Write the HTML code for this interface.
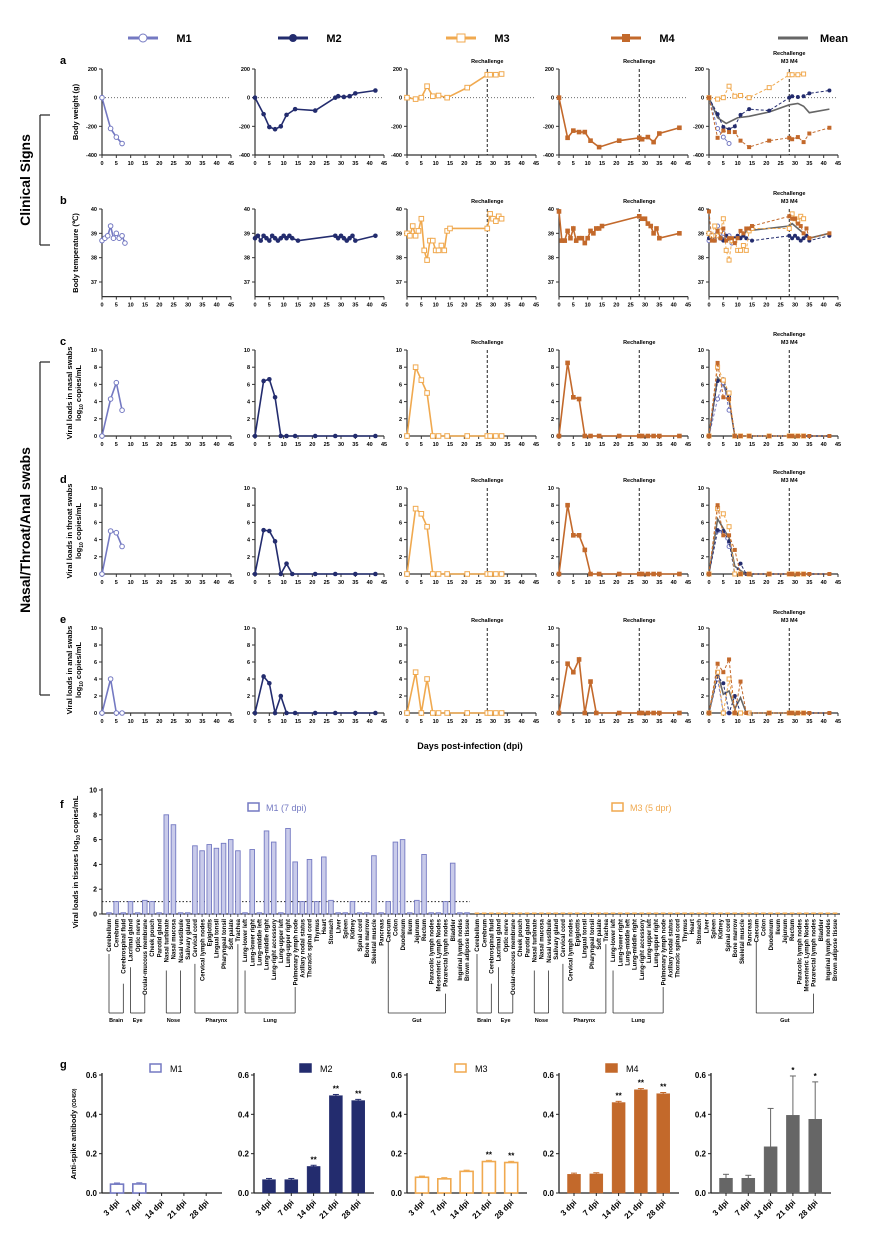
<!DOCTYPE html>
<html><head><meta charset="utf-8"><style>
body{margin:0;background:#fff}
svg{display:block;font-family:"Liberation Sans",Arial,sans-serif;font-weight:bold}
</style></head><body>
<svg id="s" width="886" height="1247" viewBox="0 0 886 1247" xmlns="http://www.w3.org/2000/svg"></svg>
<script>
const C={M1:'#7479c2',M2:'#232c6e',M3:'#f0a94f',M4:'#c3692b',Mean:'#666'};
let o='';
const L=[102,255,407,559,709], W=129;
function X(c,d){return L[c]+d*W/45}
function t(x,y,s,sz,anc,extra){o+=`<text x="${x}" y="${y}" font-size="${sz}" text-anchor="${anc||'start'}" ${extra||''}>${s}</text>`}
function ln(x1,y1,x2,y2,st,w,da){o+=`<line x1="${x1}" y1="${y1}" x2="${x2}" y2="${y2}" stroke="${st||'#000'}" stroke-width="${w||1}" ${da?`stroke-dasharray="${da}"`:''}/>`}
function mk(x,y,s,r){r=r||2.3;
 if(s=='M1')o+=`<circle cx="${x}" cy="${y}" r="${r}" fill="#fff" stroke="${C.M1}" stroke-width="1"/>`;
 if(s=='M2')o+=`<circle cx="${x}" cy="${y}" r="${r}" fill="${C.M2}"/>`;
 if(s=='M3')o+=`<rect x="${x-r}" y="${y-r}" width="${2*r}" height="${2*r}" fill="#fff" stroke="${C.M3}" stroke-width="1"/>`;
 if(s=='M4')o+=`<rect x="${x-r}" y="${y-r}" width="${2*r}" height="${2*r}" fill="${C.M4}"/>`;}
// legend
[['M1',150],['M2',300],['M3',468],['M4',633],['Mean',800]].forEach(([s,x])=>{
 ln(x-22,38,x+8,38,C[s],3);
 if(s!='Mean')mk(x-7,38,s,4);
 t(x+34,42,s,11,'middle');});
const rows=[
 {y0:69,v0:200,y1:155,v1:-400,ticks:[200,0,-200,-400],ymin:-400,zero:true,lab:['Body weight (g)'],lc:112,L:'a'},
 {y0:209,v0:40,y1:282,v1:37,ticks:[40,39,38,37],ymin:36.4,lab:['Body temperature (℃)'],lc:253,L:'b'},
 {y0:350,v0:10,y1:436,v1:0,ticks:[0,2,4,6,8,10],ymin:0,lab:['Viral loads in nasal swabs','log<tspan font-size="5" dy="2">10</tspan><tspan dy="-2"> copies/mL</tspan>'],lc:393,L:'c'},
 {y0:488,v0:10,y1:574,v1:0,ticks:[0,2,4,6,8,10],ymin:0,lab:['Viral loads in  throat swabs','log<tspan font-size="5" dy="2">10</tspan><tspan dy="-2"> copies/mL</tspan>'],lc:531,L:'d'},
 {y0:628,v0:10,y1:713,v1:0,ticks:[0,2,4,6,8,10],ymin:0,lab:['Viral loads in anal swabs','log<tspan font-size="5" dy="2">10</tspan><tspan dy="-2"> copies/mL</tspan>'],lc:670,L:'e'}];
const D=[
 {M1:[[0,0],[3,-215],[5,-275],[7,-320]],
  M2:[[0,0],[3,-115],[5,-205],[7,-220],[9,-200],[11,-120],[14,-80],[21,-90],[28,0],[29,10],[31,5],[33,10],[35,30],[42,50]],
  M3:[[0,0],[3,-10],[5,0],[7,80],[9,10],[11,15],[14,0],[21,70],[28,160],[29,160],[31,160],[33,165]],
  M4:[[0,0],[3,-280],[5,-230],[7,-240],[9,-240],[11,-300],[14,-345],[21,-300],[28,-280],[29,-290],[31,-275],[33,-310],[35,-250],[42,-210]],
  Mean:[[0,0],[3,-140],[6,-180],[8,-160],[10,-140],[14,-130],[21,-100],[28,-50],[31,-40],[33,-60],[35,-105],[42,-80]]},
 {M1:[[0,38.7],[1,38.8],[2,38.9],[3,39.3],[4,38.8],[5,39],[6,38.8],[7,38.9],[8,38.6]],
  M2:[[0,38.8],[1,38.9],[2,38.7],[3,38.9],[4,38.8],[5,38.7],[6,38.9],[7,38.8],[8,38.7],[9,38.8],[10,38.9],[11,38.8],[12,38.9],[13,38.8],[15,38.7],[28,38.9],[29,38.8],[30,38.9],[31,38.8],[32,38.7],[33,38.8],[34,38.9],[35,38.7],[42,38.9]],
  M3:[[0,39],[1,38.9],[2,39.3],[3,38.9],[4,39.1],[5,39.6],[6,38.3],[7,37.9],[8,38.7],[9,38.7],[10,38.3],[11,38.3],[12,38.5],[13,38.3],[14,39.1],[15,39.2],[28,39.2],[29,39.8],[30,39.6],[31,39.5],[32,39.7],[33,39.6]],
  M4:[[0,39.9],[1,38.7],[2,38.7],[3,39.1],[4,38.8],[5,39.2],[6,38.7],[7,38.8],[8,38.8],[9,38.6],[10,38.8],[11,39.1],[12,39],[13,39.2],[14,39.2],[15,39.3],[28,39.7],[29,39.6],[30,39.6],[31,39.4],[32,39.3],[33,39],[34,39.2],[35,38.8],[42,39.0]],
  Mean:[[0,38.9],[3,39],[6,38.7],[9,38.8],[12,38.9],[13,39.1],[28,39.3],[29,39.4],[31,39.2],[33,39],[35,38.8],[42,39]]},
 {M1:[[0,0],[3,4.3],[5,6.2],[7,3]],
  M2:[[0,0],[3,6.4],[5,6.6],[7,4.5],[9,0],[11,0],[14,0],[21,0],[28,0],[35,0],[42,0]],
  M3:[[0,0],[3,8],[5,6.5],[7,5],[9,0],[11,0],[14,0],[21,0],[28,0],[29,0],[31,0],[33,0]],
  M4:[[0,0],[3,8.5],[5,4.5],[7,4.3],[9,0],[11,0],[14,0],[21,0],[28,0],[29,0],[31,0],[33,0],[35,0],[42,0]],
  Mean:[[0,0],[3,6.8],[5,6],[7,4.2],[9,0],[42,0]]},
 {M1:[[0,0],[3,5],[5,4.8],[7,3.2]],
  M2:[[0,0],[3,5.1],[5,5],[7,3.8],[9,0],[11,1.2],[13,0],[21,0],[28,0],[35,0],[42,0]],
  M3:[[0,0],[3,7.6],[5,7],[7,5.5],[9,0],[11,0],[14,0],[21,0],[28,0],[29,0],[31,0],[33,0]],
  M4:[[0,0],[3,8],[5,4.5],[7,4.5],[9,2.8],[11,0],[14,0],[21,0],[28,0],[29,0],[31,0],[33,0],[35,0],[42,0]],
  Mean:[[0,0],[3,6.4],[5,5.3],[7,4.2],[9,0.9],[11,0.4],[13,0],[42,0]]},
 {M1:[[0,0],[3,4],[5,0],[7,0]],
  M2:[[0,0],[3,4.3],[5,3.5],[7,0],[9,2],[11,0],[14,0],[21,0],[28,0],[35,0],[42,0]],
  M3:[[0,0],[3,4.8],[5,0],[7,4],[9,0],[11,0],[14,0],[21,0],[28,0],[29,0],[31,0],[33,0]],
  M4:[[0,0],[3,5.8],[5,4.8],[7,6.3],[9,0],[11,3.7],[13,0],[21,0],[28,0],[29,0],[31,0],[33,0],[35,0],[42,0]],
  Mean:[[0,0],[3,4.7],[5,2.2],[7,2.6],[9,0.5],[11,1.8],[13,0],[42,0]]}];
rows.forEach((r,ri)=>{
 const Y=v=>r.y0+(v-r.v0)*(r.y1-r.y0)/(r.v1-r.v0);
 const yb=Y(r.ymin);
 t(60,r.y0-5,r.L,11);
 r.lab.forEach((s,i)=>{const x=r.lab.length==1?78:72+i*9;t(x,r.lc,s,7.5,'middle',`transform="rotate(-90 ${x} ${r.lc})"`)});
 for(let c=0;c<5;c++){
  ln(L[c],r.y0,L[c],yb,'#333',1.2); ln(L[c],yb,L[c]+W,yb,'#333',1.2);
  r.ticks.forEach(v=>{ln(L[c]-3,Y(v),L[c],Y(v),'#333',1);t(L[c]-5,Y(v)+2,v,5.5,'end')});
  for(let d=0;d<=45;d+=5){ln(X(c,d),yb,X(c,d),yb+3,'#333',1);t(X(c,d),yb+10,d,5.5,'middle')}
  if(r.zero)ln(L[c],Y(0),L[c]+W,Y(0),'#555',0.8,'1,2');
  if(c>=2){ln(X(c,28),r.y0,X(c,28),yb,'#222',1,'3,2');
   if(c<4)t(X(c,28),r.y0-6,'Rechallenge',5.5,'middle');
   else{t(X(c,28),r.y0-14,'Rechallenge',5.5,'middle');t(X(c,28),r.y0-6,'M3 M4',5.5,'middle');}}
  const ss=c<4?[['M1','M2','M3','M4'][c]]:['M1','M2','M3','M4'];
  if(c==4){const m=D[ri].Mean;o+=`<polyline fill="none" stroke="${C.Mean}" stroke-width="1.6" points="${m.map(p=>X(c,p[0])+','+Y(p[1])).join(' ')}"/>`}
  ss.forEach(s=>{const a=D[ri][s];
   o+=`<polyline fill="none" stroke="${C[s]}" stroke-width="${c==4?1:1.6}" ${c==4?'stroke-dasharray="3,2"':''} points="${a.map(p=>X(c,p[0])+','+Y(p[1])).join(' ')}"/>`;
   a.forEach(p=>mk(X(c,p[0]),Y(p[1]),s,c==4?2:2.3));});
 }});
t(470,749,'Days post-infection (dpi)',9,'middle');
// side labels
t(30,180,'Clinical Signs',14,'middle','transform="rotate(-90 30 180)"');
ln(40,115,40,245,'#222',1.2);ln(40,115,50,115,'#222',1.2);ln(40,245,50,245,'#222',1.2);
t(30,530,'Nasal/Throat/Anal swabs',14,'middle','transform="rotate(-90 30 530)"');
ln(40,362,40,695,'#222',1.2);ln(40,362,50,362,'#222',1.2);ln(40,695,50,695,'#222',1.2);
// panel f
const tn=['Cerebellum','Cerebrum','Cerebrospinal fluid','Lacrimal gland','Optic nerve','Ocular-mucous membrane','Cheek pouch','Parotid gland','Nasal turbinate','Nasal mucosa','Nasal vestibule','Salivary gland','Cervical cord','Cervical lymph nodes','Epiglottis','Lingual tonsil','Pharyngeal tonsil','Soft palate','Trachea','Lung-lower left','Lung-lower right','Lung-middle left','Lung-middle right','Lung-right accessory','Lung-upper left','Lung-upper right','Pulmonary lymph node','Axillary nodal status','Thoracic spinal cord','Thymus','Heart','Stomach','Liver','Spleen','Kidney','Spinal cord','Bone marrow','Skeletal muscle','Pancreas','Caecum','Colon','Duodenum','Ileum','Jejunum','Rectum','Paracolic lymph nodes','Mesenteric Lymph Nodes','Pararectal lymph nodes','Bladder','Inguinal lymph nodes','Brown adipose tissue'];
const tv=[.1,1,.1,1,.1,1.1,1,.1,8,7.2,.1,.1,5.5,5.1,5.6,5.3,5.7,6,5.1,.1,5.2,.1,6.7,5.8,.1,6.9,4.2,1,4.4,1,4.6,1.1,.1,.1,1,.1,.1,4.7,.1,1,5.8,6,.1,1.1,4.8,.1,.1,1,4.1,.1,.1];
const FY=v=>914-v*12.4;
t(60,808,'f',11);
t(78,862,'Viral loads in tissues log<tspan font-size="5" dy="2">10</tspan><tspan dy="-2"> copies/mL</tspan>',7.5,'middle','transform="rotate(-90 78 862)"');
ln(102,788,102,914,'#333',1.2);ln(102,914,840,914,'#333',1.2);
for(let v=0;v<=10;v+=2){ln(99,FY(v),102,FY(v),'#333',1);t(97,FY(v)+2.5,v,7,'end')}
ln(102,FY(1),470,FY(1),'#222',1,'1.5,2');
o+=`<rect x="248" y="803" width="11" height="8" fill="#fff" stroke="${C.M1}" stroke-width="1.5"/>`;t(266,811,'M1 (7 dpi)',9,'start','font-weight="normal" fill="'+C.M1+'"');
o+=`<rect x="612" y="803" width="11" height="8" fill="#fff" stroke="${C.M3}" stroke-width="1.5"/>`;t(630,811,'M3 (5 dpr)',9,'start','font-weight="normal" fill="'+C.M3+'"');
const grp=[['Brain',0,2],['Eye',3,5],['Nose',8,10],['Pharynx',12,18],['Lung',19,26],['Gut',39,47]];
[[109,'M1'],[477,'M3']].forEach(([b,s])=>{
 const xi=i=>b+i*7.16;
 tn.forEach((n,i)=>{const x=xi(i);
  if(s=='M1'){const h=tv[i]*12.4;o+=`<rect x="${x-2.3}" y="${914-h}" width="4.6" height="${h}" fill="#c9cbea" stroke="${C.M1}" stroke-width="0.9"/>`}
  else o+=`<rect x="${x-2.3}" y="912.5" width="4.6" height="1.5" fill="${C.M3}"/>`;
  ln(x,914,x,917,'#333',0.8);
  t(x+2.2,919,n,6,'end',`transform="rotate(-90 ${x+2.2} 919)"`);});
 grp.forEach(([g,a,e])=>{const x1=xi(a),x2=xi(e),l1=919+tn[a].length*3.3+2,l2=919+tn[e].length*3.3+2;
  ln(x1,l1,x1,1013,'#333',0.8);ln(x2,l2,x2,1013,'#333',0.8);ln(x1,1013,x2,1013,'#333',0.8);
  t((x1+x2)/2,1022,g,5.5,'middle');});
});
// panel g
t(60,1068,'g',11);
t(76,1134,'Anti-spike antibody <tspan font-size="5">(OD450)</tspan>',7.5,'middle','transform="rotate(-90 76 1134)"');
const GL=[102,254,407,559,711],GY=v=>1193-v*118/0.6;
const gd=[
 {s:'M1',v:[.045,.046,0,0,0],st:['','','','','']},
 {s:'M2',v:[.068,.068,.135,.495,.47],st:['','','**','**','**']},
 {s:'M3',v:[.08,.072,.11,.16,.155],st:['','','','**','**']},
 {s:'M4',v:[.095,.097,.46,.525,.505],st:['','','**','**','**']},
 {s:'Mean',v:[.075,.075,.235,.395,.375],e:[.095,.09,.43,.595,.565],st:['','','','*','*']}];
const lab=['3 dpi','7 dpi','14 dpi','21 dpi','28 dpi'];
gd.forEach((g,c)=>{const x0=GL[c];
 ln(x0,1073,x0,1193,'#222',1.3);ln(x0,1193,x0+120,1193,'#222',1.3);
 [0,.2,.4,.6].forEach(v=>{ln(x0-3,GY(v),x0,GY(v),'#222',1);t(x0-5,GY(v)+3,v.toFixed(1),8,'end')});
 if(c<4){const lx=[150,300,455,606][c];
  o+=`<rect x="${lx}" y="1064" width="11" height="8" fill="${(c%2)?C[g.s]:'#fff'}" stroke="${C[g.s]}" stroke-width="1.5"/>`;
  t(lx+20,1072,g.s,9,'start','font-weight="normal"');}
 g.v.forEach((v,i)=>{const cx=x0+15+i*22.3,col=C[g.s];
  if(v>0){const open=(g.s=='M1'||g.s=='M3');
   o+=`<rect x="${cx-6.5}" y="${GY(v)}" width="13" height="${1193-GY(v)}" fill="${open?'#fff':col}" stroke="${col}" stroke-width="${open?1.6:0.5}"/>`;
   const e=g.e?g.e[i]:v+0.006;ln(cx,GY(v),cx,GY(e),col,1);ln(cx-3,GY(e),cx+3,GY(e),col,1);
   if(g.st[i])t(cx,GY(e)-3,g.st[i],8,'middle');}
  ln(cx,1193,cx,1196,'#222',1);
  t(cx+3,1203,lab[i],8,'end',`transform="rotate(-45 ${cx+3} 1203)"`);});
});
document.getElementById('s').innerHTML=o;
</script>
</body></html>
